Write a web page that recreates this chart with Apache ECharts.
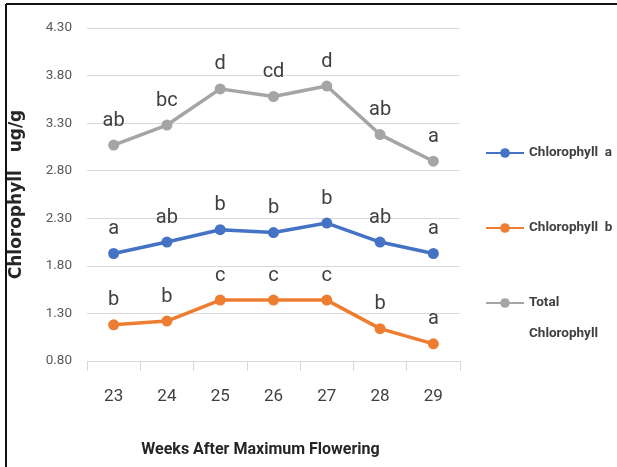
<!DOCTYPE html>
<html>
<head>
<meta charset="utf-8">
<script src="https://cdn.jsdelivr.net/npm/echarts@6/dist/echarts.min.js"></script>
<style>
html,body{margin:0;padding:0;background:#fff;}
#chart{width:617px;height:467px;}
</style>
</head>
<body>
<div id="chart"></div>
<script>
var weeks = ['23', '24', '25', '26', '27', '28', '29'];
var chlA = [1.93, 2.05, 2.18, 2.15, 2.25, 2.05, 1.93];
var chlB = [1.18, 1.22, 1.44, 1.44, 1.44, 1.14, 0.98];
var totalChl = [3.07, 3.28, 3.66, 3.58, 3.69, 3.18, 2.90];
var chlALetters = ['a', 'ab', 'b', 'b', 'b', 'ab', 'a'];
var chlBLetters = ['b', 'b', 'c', 'c', 'c', 'b', 'a'];
var totalLetters = ['ab', 'bc', 'd', 'cd', 'd', 'ab', 'a'];
var yMin = 0.8, yMax = 4.3, yStep = 0.5;
var seriesNames = ['Chlorophyll  a', 'Chlorophyll  b', 'Total Chlorophyll'];

var chart = echarts.init(document.getElementById('chart'));

function mkSeries(name, data, letters, color) {
  return {
    name: name,
    type: 'line',
    data: data,
    symbol: 'circle',
    symbolSize: 11,
    lineStyle: { width: 3.5, color: color },
    itemStyle: { color: color },
    label: {
      show: true,
      position: 'top',
      distance: 9,
      fontFamily: 'Roboto',
      fontSize: 20,
      color: '#404040',
      formatter: function (p) { return letters[p.dataIndex]; }
    },
    emphasis: { disabled: true },
    animation: false
  };
}

var legendText = {
  fontFamily: 'Roboto',
  fontWeight: 'bold',
  fontSize: 13.5,
  color: '#404040',
  lineHeight: 31
};

function mkLegend(name, top) {
  return {
    data: [name],
    left: 480,
    top: top,
    itemWidth: 38,
    itemHeight: 12,
    itemGap: 2,
    selectedMode: false,
    textStyle: legendText,
    formatter: function (n) {
      if (n === 'Total Chlorophyll') return '\nTotal\nChlorophyll';
      return n;
    }
  };
}

chart.setOption({
  backgroundColor: '#ffffff',
  animation: false,
  grid: { left: 83, right: 157, top: 28, bottom: 106, containLabel: false },
  legend: [
    mkLegend(seriesNames[0], 132.5),
    mkLegend(seriesNames[1], 207.5),
    mkLegend(seriesNames[2], 251.5)
  ],
  xAxis: {
    type: 'category',
    data: weeks,
    boundaryGap: true,
    name: 'Weeks After Maximum Flowering',
    nameLocation: 'middle',
    nameGap: 81,
    nameTextStyle: {
      fontFamily: 'Roboto',
      fontWeight: 'bold',
      fontSize: 16,
      color: '#262626',
      padding: [0, 26, 0, 0]
    },
    axisLine: { lineStyle: { color: '#d9d9d9', width: 1 } },
    axisTick: { show: true, length: 10, lineStyle: { color: '#d9d9d9' } },
    axisLabel: {
      margin: 27,
      fontFamily: 'Roboto',
      fontSize: 17,
      color: '#404040'
    },
    splitLine: { show: false }
  },
  yAxis: {
    type: 'value',
    min: yMin,
    max: yMax,
    interval: yStep,
    name: 'Chlorophyll   ug/g',
    nameLocation: 'middle',
    nameRotate: 90,
    nameGap: 62,
    nameTextStyle: {
      fontFamily: 'DejaVu Sans',
      fontWeight: 'bold',
      fontSize: 17,
      color: '#262626'
    },
    axisLine: { show: false },
    axisTick: { show: false },
    axisLabel: {
      margin: 15,
      fontFamily: 'Roboto',
      fontSize: 13.5,
      color: '#595959',
      formatter: function (v) { return v.toFixed(2); }
    },
    splitLine: { lineStyle: { color: '#d9d9d9', width: 1 } }
  },
  graphic: [
    { type: 'line', shape: { x1: 6, y1: 4, x2: 617, y2: 4 }, style: { stroke: '#111', lineWidth: 2 } },
    { type: 'line', shape: { x1: 6, y1: 4, x2: 6, y2: 467 }, style: { stroke: '#111', lineWidth: 2 } }
  ],
  series: [
    mkSeries(seriesNames[0], chlA, chlALetters, '#4472C4'),
    mkSeries(seriesNames[1], chlB, chlBLetters, '#ED7D31'),
    mkSeries(seriesNames[2], totalChl, totalLetters, '#A5A5A5')
  ]
});
</script>
</body>
</html>
